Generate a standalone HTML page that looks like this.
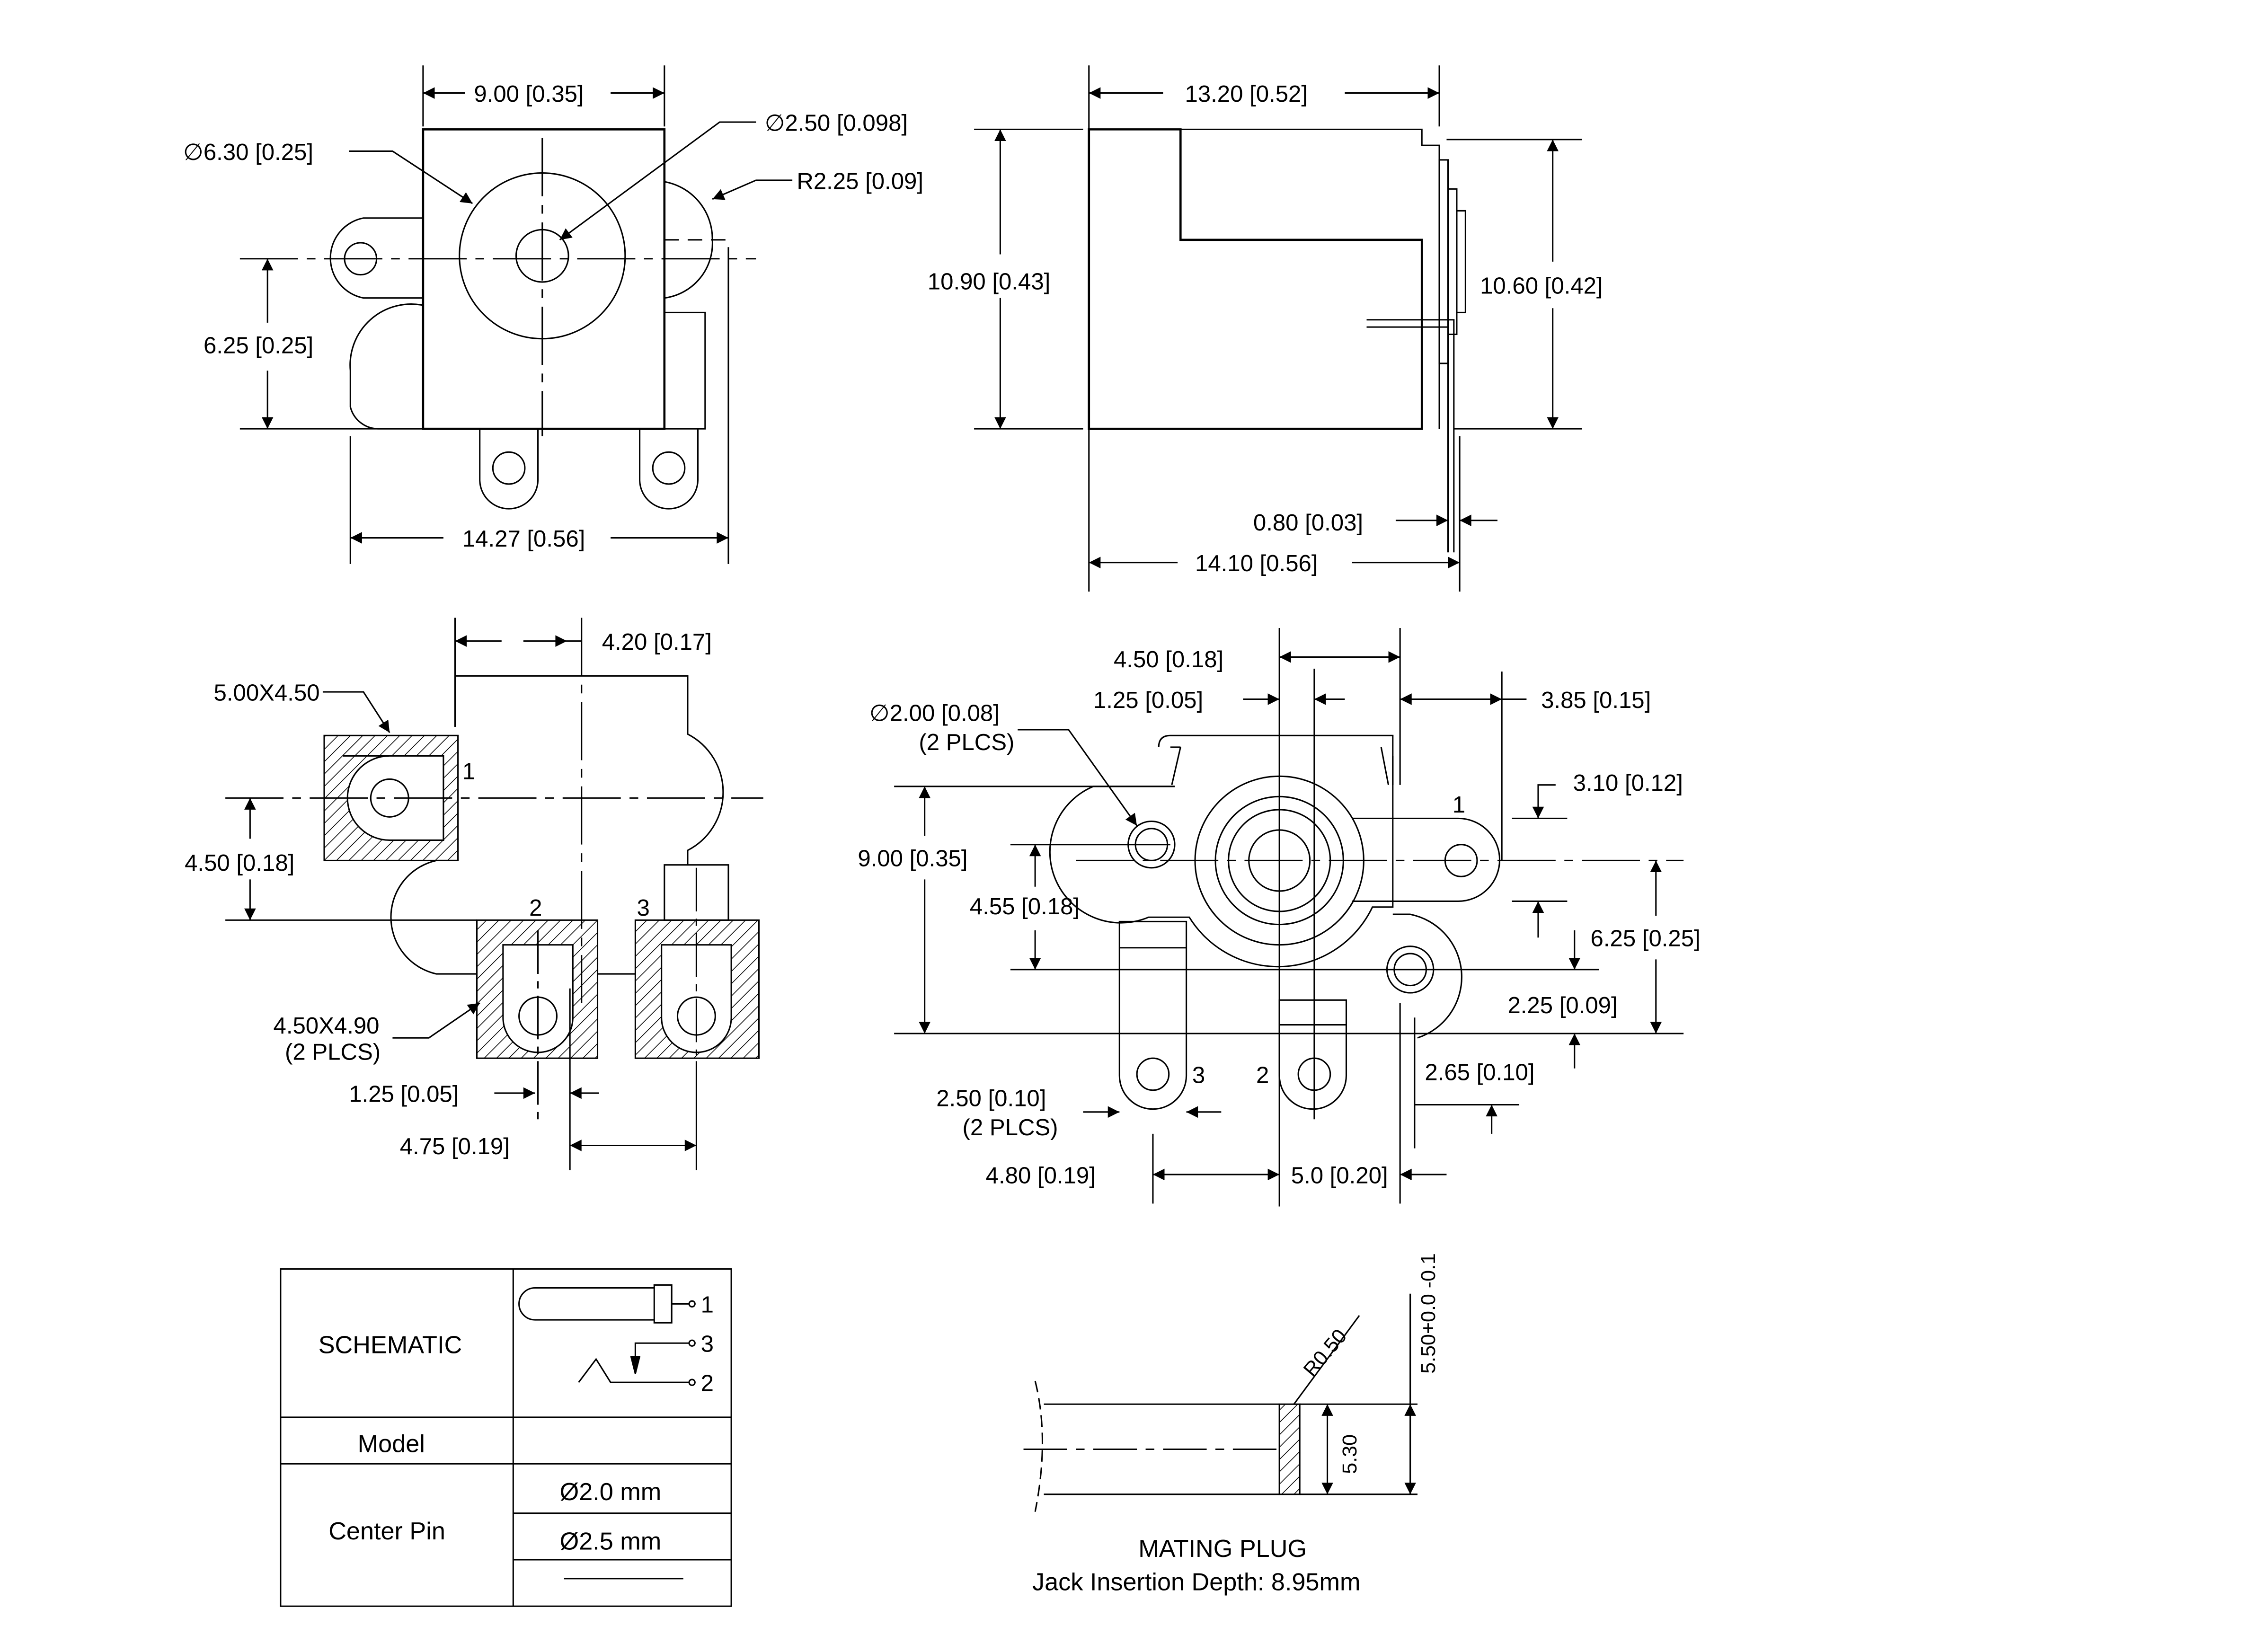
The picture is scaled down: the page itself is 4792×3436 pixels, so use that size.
<!DOCTYPE html>
<html><head><meta charset="utf-8"><style>html,body{margin:0;padding:0;background:#fff}svg{display:block}text{font-family:"Liberation Sans",sans-serif;fill:#000}</style></head><body>
<svg width="4792" height="3436" viewBox="0 0 1560 1118.6" preserveAspectRatio="none" xmlns="http://www.w3.org/2000/svg">
<defs>
<marker id="a" viewBox="0 0 10 10" refX="10" refY="5" markerWidth="14" markerHeight="8" markerUnits="userSpaceOnUse" orient="auto-start-reverse"><path d="M0,0L10,5L0,10z" fill="#000"/></marker>
<pattern id="h" width="6" height="6" patternUnits="userSpaceOnUse" patternTransform="rotate(45)"><line x1="0" y1="0" x2="0" y2="6" stroke="#000" stroke-width="1"/></pattern>
</defs>
<g fill="none" stroke="#000" stroke-width="1">
<!-- TOP LEFT -->
<rect x="291" y="89" width="166" height="206" stroke-width="1.5"/>
<circle cx="373" cy="176" r="57"/><circle cx="373" cy="176" r="18"/>
<path d="M291,150 H250 A28,28 0 0 0 250,205 H291"/><circle cx="248" cy="178" r="11"/>
<path d="M457,125 A40,40 0 0 1 490,165 A38,38 0 0 1 457,205"/>
<path d="M291,210 A42,42 0 0 0 241,255 L241,280 A20,20 0 0 0 260,295 H291"/>
<path d="M330,295 V330 A20,20 0 0 0 370,330 V295"/><circle cx="350" cy="322" r="11"/>
<path d="M440,295 V330 A20,20 0 0 0 480,330 V295"/><circle cx="460" cy="322" r="11"/>
<rect x="457" y="215" width="28" height="80"/>
<line x1="165" y1="178" x2="520" y2="178" stroke-dasharray="40,6,6,6"/>
<line x1="373" y1="95" x2="373" y2="300" stroke-dasharray="40,6,6,6"/>
<line x1="457" y1="165" x2="500" y2="165" stroke-dasharray="10,6"/>
<line x1="291" y1="45" x2="291" y2="87"/><line x1="457" y1="45" x2="457" y2="87"/>
<line x1="291" y1="64" x2="320" y2="64" marker-start="url(#a)"/><line x1="420" y1="64" x2="457" y2="64" marker-end="url(#a)"/>
<line x1="165" y1="295" x2="290" y2="295"/>
<line x1="184" y1="178" x2="184" y2="222" marker-start="url(#a)"/><line x1="184" y1="255" x2="184" y2="295" marker-end="url(#a)"/>
<line x1="241" y1="300" x2="241" y2="388"/><line x1="501" y1="170" x2="501" y2="388"/>
<line x1="241" y1="370" x2="305" y2="370" marker-start="url(#a)"/><line x1="420" y1="370" x2="501" y2="370" marker-end="url(#a)"/>
<path d="M240,104 H270 L325,140" marker-end="url(#a)"/>
<path d="M520,84 H495 L385,165" marker-end="url(#a)"/>
<path d="M545,124 H520 L490,137" marker-end="url(#a)"/>
<!-- TOP RIGHT -->
<path d="M749,89 H812 V165 H978 V295 H749 Z" stroke-width="1.5"/>
<path d="M812,89 H978 V100 H990 V295"/>
<rect x="990" y="110" width="6" height="140"/><rect x="996" y="130" width="6" height="100"/><rect x="1002" y="145" width="6" height="70"/>
<path d="M940,220 H1000 V380 M940,225 H996 V380"/>
<line x1="749" y1="45" x2="749" y2="407"/><line x1="990" y1="45" x2="990" y2="87"/>
<line x1="749" y1="64" x2="800" y2="64" marker-start="url(#a)"/><line x1="925" y1="64" x2="990" y2="64" marker-end="url(#a)"/>
<line x1="670" y1="89" x2="745" y2="89"/><line x1="670" y1="295" x2="745" y2="295"/>
<line x1="688" y1="89" x2="688" y2="175" marker-start="url(#a)"/><line x1="688" y1="205" x2="688" y2="295" marker-end="url(#a)"/>
<line x1="995" y1="96" x2="1088" y2="96"/><line x1="1000" y1="295" x2="1088" y2="295"/>
<line x1="1068" y1="96" x2="1068" y2="180" marker-start="url(#a)"/><line x1="1068" y1="212" x2="1068" y2="295" marker-end="url(#a)"/>
<line x1="1004" y1="300" x2="1004" y2="407"/>
<line x1="960" y1="358" x2="996" y2="358" marker-end="url(#a)"/><line x1="1030" y1="358" x2="1004" y2="358" marker-end="url(#a)"/>
<line x1="749" y1="387" x2="810" y2="387" marker-start="url(#a)"/><line x1="930" y1="387" x2="1004" y2="387" marker-end="url(#a)"/>
<!-- MID LEFT -->
<rect x="223" y="506" width="92" height="86" fill="url(#h)"/>
<path d="M236,520 H305 V578 H268 A29,29 0 0 1 268,520" fill="#fff"/><circle cx="268" cy="549" r="13"/>
<rect x="328" y="633" width="83" height="95" fill="url(#h)"/>
<path d="M346,650 H394 V700 A24,24 0 0 1 346,700 Z" fill="#fff"/><circle cx="370" cy="699" r="13"/>
<rect x="437" y="633" width="85" height="95" fill="url(#h)"/>
<path d="M455,650 H503 V700 A24,24 0 0 1 455,700 Z" fill="#fff"/><circle cx="479" cy="699" r="13"/>
<path d="M313,500 V465 H473 V505 A45,45 0 0 1 473,585 V595 M315,592 H300 A40,40 0 0 0 300,670 H328 M411,670 H437"/>
<rect x="457" y="595" width="44" height="38"/>
<line x1="479" y1="597" x2="479" y2="726" stroke-dasharray="30,5,5,5"/>
<line x1="370" y1="640" x2="370" y2="770" stroke-dasharray="30,5,5,5"/>
<line x1="400" y1="425" x2="400" y2="690" stroke-dasharray="40,6,6,6"/>
<line x1="155" y1="549" x2="525" y2="549" stroke-dasharray="40,6,6,6"/>
<line x1="155" y1="633" x2="328" y2="633"/>
<line x1="313" y1="425" x2="313" y2="500"/>
<line x1="313" y1="441" x2="345" y2="441" marker-start="url(#a)"/><line x1="360" y1="441" x2="390" y2="441" marker-end="url(#a)"/><line x1="390" y1="441" x2="400" y2="441"/>
<line x1="172" y1="549" x2="172" y2="577" marker-start="url(#a)"/><line x1="172" y1="605" x2="172" y2="633" marker-end="url(#a)"/>
<path d="M222,476 H250 L268,504" marker-end="url(#a)"/>
<path d="M270,714 H295 L330,690" marker-end="url(#a)"/>
<line x1="340" y1="752" x2="368" y2="752" marker-end="url(#a)"/><line x1="412" y1="752" x2="392" y2="752" marker-end="url(#a)"/>
<line x1="392" y1="680" x2="392" y2="805"/><line x1="479" y1="730" x2="479" y2="805"/>
<line x1="392" y1="788" x2="479" y2="788" marker-start="url(#a)" marker-end="url(#a)"/>
<!-- MID RIGHT -->
<path d="M797,514 Q797,506 805,506 H958 V540 M805,514 L812,514 M812,514 L806,540 M950,514 L955,540"/>
<path d="M808,541 H752 A42,42 0 0 0 790,631 H818 A72,72 0 0 0 880,665 A72,72 0 0 0 944,624 H958 V520"/>
<circle cx="880" cy="592" r="58"/><circle cx="880" cy="592" r="44"/><circle cx="880" cy="592" r="35"/><circle cx="880" cy="592" r="21"/>
<path d="M930,563 H1003 A28,28 0 0 1 1003,620 H930"/><circle cx="1005" cy="592" r="11"/>
<circle cx="792" cy="581" r="16"/><circle cx="792" cy="581" r="11"/>
<path d="M958,629 H970 A44,44 0 0 1 975,714"/><circle cx="970" cy="667" r="16"/><circle cx="970" cy="667" r="11"/>
<path d="M770,634 V740 A20,20 0 0 0 816,740 V634 Z M770,652 H816"/><circle cx="793" cy="739" r="11"/>
<path d="M880,688 V740 A20,20 0 0 0 926,740 V688 Z M880,705 H926"/><circle cx="904" cy="739" r="11"/>
<line x1="880" y1="432" x2="880" y2="830"/><line x1="904" y1="460" x2="904" y2="770"/>
<line x1="963" y1="432" x2="963" y2="540"/><line x1="1033" y1="462" x2="1033" y2="592"/>
<line x1="793" y1="780" x2="793" y2="828"/><line x1="963" y1="690" x2="963" y2="828"/><line x1="973" y1="700" x2="973" y2="790"/>
<line x1="880" y1="452" x2="963" y2="452" marker-start="url(#a)" marker-end="url(#a)"/>
<line x1="855" y1="481" x2="880" y2="481" marker-end="url(#a)"/><line x1="925" y1="481" x2="904" y2="481" marker-end="url(#a)"/>
<line x1="963" y1="481" x2="1033" y2="481" marker-start="url(#a)" marker-end="url(#a)"/><line x1="1033" y1="481" x2="1050" y2="481"/>
<line x1="615" y1="541" x2="808" y2="541"/><line x1="615" y1="711" x2="1158" y2="711"/>
<line x1="636" y1="541" x2="636" y2="575" marker-start="url(#a)"/><line x1="636" y1="605" x2="636" y2="711" marker-end="url(#a)"/>
<line x1="695" y1="581" x2="805" y2="581"/><line x1="695" y1="667" x2="1100" y2="667"/>
<line x1="712" y1="581" x2="712" y2="610" marker-start="url(#a)"/><line x1="712" y1="640" x2="712" y2="667" marker-end="url(#a)"/>
<line x1="740" y1="592" x2="1158" y2="592" stroke-dasharray="40,6,6,6"/>
<line x1="1040" y1="563" x2="1078" y2="563"/><line x1="1040" y1="620" x2="1078" y2="620"/>
<path d="M1070,540 H1058 V563" marker-end="url(#a)"/><line x1="1058" y1="645" x2="1058" y2="620" marker-end="url(#a)"/>
<line x1="1139" y1="592" x2="1139" y2="630" marker-start="url(#a)"/><line x1="1139" y1="660" x2="1139" y2="711" marker-end="url(#a)"/>
<line x1="1083" y1="640" x2="1083" y2="667" marker-end="url(#a)"/><line x1="1083" y1="735" x2="1083" y2="711" marker-end="url(#a)"/>
<line x1="973" y1="760" x2="1045" y2="760"/><line x1="1026" y1="780" x2="1026" y2="760" marker-end="url(#a)"/>
<path d="M700,502 H735 L782,568" marker-end="url(#a)"/>
<line x1="745" y1="765" x2="770" y2="765" marker-end="url(#a)"/><line x1="840" y1="765" x2="816" y2="765" marker-end="url(#a)"/>
<line x1="793" y1="808" x2="880" y2="808" marker-start="url(#a)" marker-end="url(#a)"/>
<line x1="995" y1="808" x2="963" y2="808" marker-end="url(#a)"/>
<!-- TABLE -->
<rect x="193" y="873" width="310" height="232"/>
<line x1="353" y1="873" x2="353" y2="1105"/>
<line x1="193" y1="975" x2="503" y2="975"/><line x1="193" y1="1007" x2="503" y2="1007"/>
<line x1="353" y1="1041" x2="503" y2="1041"/><line x1="353" y1="1073" x2="503" y2="1073"/>
<line x1="388" y1="1086" x2="470" y2="1086"/>
<path d="M368,886 H450 M368,908 H450 M368,886 A11,11 0 0 0 368,908"/><rect x="450" y="884" width="12" height="26"/>
<line x1="462" y1="897" x2="474" y2="897"/><circle cx="476" cy="897" r="2"/>
<path d="M437,945 V924 H474"/><circle cx="476" cy="924" r="2"/>
<path d="M434,933 L437,945 L440,933" fill="#000"/>
<path d="M398,951 L410,935 L420,951 H474"/><circle cx="476" cy="951" r="2"/>
<!-- PLUG -->
<path d="M718,966 H880 M718,1028 H880"/>
<path d="M712,950 Q722,990 712,1040" stroke-dasharray="8,4"/>
<line x1="704" y1="997" x2="880" y2="997" stroke-dasharray="30,6,6,6"/>
<rect x="880" y="966" width="14" height="62" fill="url(#h)"/>
<line x1="894" y1="966" x2="975" y2="966"/><line x1="894" y1="1028" x2="975" y2="1028"/>
<line x1="913" y1="966" x2="913" y2="1028" marker-start="url(#a)" marker-end="url(#a)"/>
<line x1="970" y1="890" x2="970" y2="966"/><line x1="970" y1="966" x2="970" y2="1028" marker-start="url(#a)" marker-end="url(#a)"/>
<line x1="890" y1="966" x2="935" y2="905"/>
</g>
<g font-size="16">
<text x="326" y="70">9.00 [0.35]</text>
<text x="126" y="110">∅6.30 [0.25]</text>
<text x="526" y="90">∅2.50 [0.098]</text>
<text x="548" y="130">R2.25 [0.09]</text>
<text x="140" y="243">6.25 [0.25]</text>
<text x="318" y="376">14.27 [0.56]</text>
<text x="815" y="70">13.20 [0.52]</text>
<text x="638" y="199">10.90 [0.43]</text>
<text x="1018" y="202">10.60 [0.42]</text>
<text x="862" y="365">0.80 [0.03]</text>
<text x="822" y="393">14.10 [0.56]</text>
<text x="414" y="447">4.20 [0.17]</text>
<text x="147" y="482">5.00X4.50</text>
<text x="318" y="536">1</text>
<text x="127" y="599">4.50 [0.18]</text>
<text x="364" y="630">2</text><text x="438" y="630">3</text>
<text x="188" y="711">4.50X4.90</text><text x="196" y="729">(2 PLCS)</text>
<text x="240" y="758">1.25 [0.05]</text>
<text x="275" y="794">4.75 [0.19]</text>
<text x="766" y="459">4.50 [0.18]</text>
<text x="752" y="487">1.25 [0.05]</text>
<text x="1060" y="487">3.85 [0.15]</text>
<text x="598" y="496">∅2.00 [0.08]</text><text x="632" y="516">(2 PLCS)</text>
<text x="1082" y="544">3.10 [0.12]</text>
<text x="999" y="559">1</text>
<text x="590" y="596">9.00 [0.35]</text>
<text x="667" y="629">4.55 [0.18]</text>
<text x="1094" y="651">6.25 [0.25]</text>
<text x="1037" y="697">2.25 [0.09]</text>
<text x="980" y="743">2.65 [0.10]</text>
<text x="820" y="745">3</text><text x="864" y="745">2</text>
<text x="644" y="761">2.50 [0.10]</text><text x="662" y="781">(2 PLCS)</text>
<text x="678" y="814">4.80 [0.19]</text>
<text x="888" y="814">5.0 [0.20]</text>
<text x="219" y="931" font-size="17">SCHEMATIC</text>
<text x="482" y="903">1</text><text x="482" y="930">3</text><text x="482" y="957">2</text>
<text x="246" y="999" font-size="17">Model</text>
<text x="226" y="1059" font-size="17">Center Pin</text>
<text x="385" y="1032" font-size="17">Ø2.0 mm</text>
<text x="385" y="1066" font-size="17">Ø2.5 mm</text>
<text x="783" y="1071" font-size="17">MATING PLUG</text>
<text x="710" y="1094" font-size="17">Jack Insertion Depth: 8.95mm</text>
<text x="0" y="0" font-size="14" transform="translate(933,1014) rotate(-90)">5.30</text>
<text x="0" y="0" font-size="14" transform="translate(903,948) rotate(-50)">R0.50</text>
<text x="0" y="0" font-size="14" transform="translate(987,945) rotate(-90)">5.50+0.0 -0.1</text>
</g>
</svg>
</body></html>
